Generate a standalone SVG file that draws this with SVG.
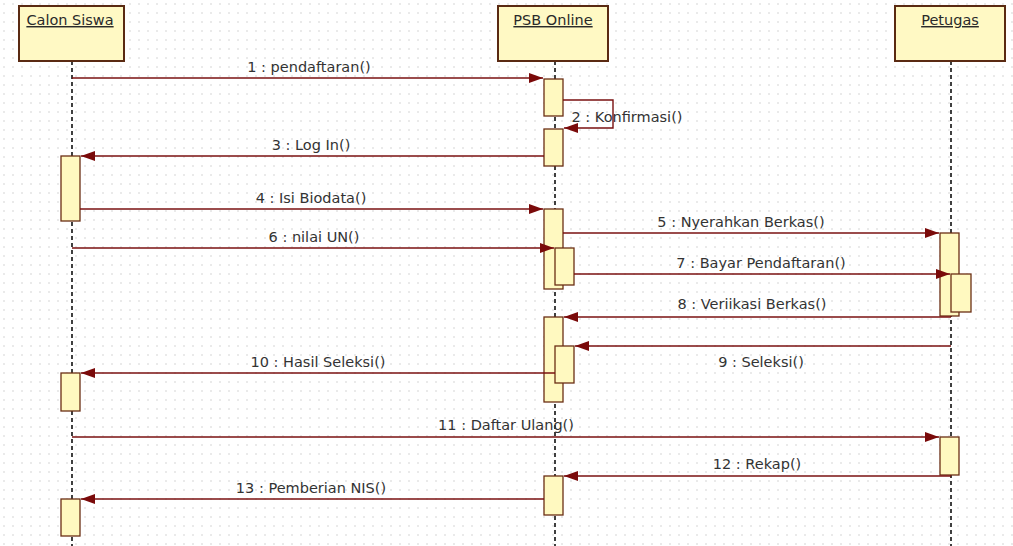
<svg xmlns="http://www.w3.org/2000/svg" width="1013" height="546" viewBox="0 0 1013 546">
<style>
.hdr{fill:#fff9c4;stroke:#5a2a12;stroke-width:2}
.act{fill:#fff9c0;stroke:#6b2e14;stroke-width:1.3}
.life{stroke:#111;stroke-width:1.6;stroke-dasharray:4 3;fill:none}
.msg{stroke:#7a1010;stroke-width:1.4;fill:none}
.lbl{font-family:"DejaVu Sans",sans-serif;font-size:14.5px;fill:#333;text-anchor:middle}
.hl{font-family:"DejaVu Sans",sans-serif;font-size:14.5px;fill:#2a2a2a;text-anchor:middle;text-decoration:underline}
</style>
<defs>
<pattern id="dots" width="9" height="9" patternUnits="userSpaceOnUse">
<circle cx="4" cy="4" r="0.7" fill="#c4c4c4"/>
</pattern>
<marker id="arr" markerWidth="14" markerHeight="10" refX="14" refY="5" orient="auto" markerUnits="userSpaceOnUse">
<path d="M0,0 L14,5 L0,10 Z" fill="#7a0a0a"/>
</marker>
</defs>
<rect width="1013" height="546" fill="#fff"/>
<rect width="1013" height="546" fill="url(#dots)"/>

<g id="lifelines">
<line class="life" x1="72" y1="61" x2="72" y2="546"/>
<line class="life" x1="555" y1="61" x2="555" y2="546"/>
<line class="life" x1="951" y1="61" x2="951" y2="546"/>
</g>

<g id="calon-siswa">
<rect class="hdr" x="19" y="6" width="105" height="55"/>
<text class="hl" x="70" y="25">Calon Siswa</text>
<rect class="act" x="61" y="156" width="19" height="65"/>
<rect class="act" x="61" y="373" width="19" height="38"/>
<rect class="act" x="61" y="499" width="19" height="37"/>
</g>

<g id="psb-online">
<rect class="hdr" x="498" y="6" width="110" height="55"/>
<text class="hl" x="553" y="25">PSB Online</text>
<rect class="act" x="544" y="79" width="19" height="37"/>
<rect class="act" x="544" y="129" width="19" height="37"/>
<rect class="act" x="544" y="209" width="19" height="80"/>
<rect class="act" x="555" y="248" width="19" height="37"/>
<rect class="act" x="544" y="317" width="19" height="85"/>
<rect class="act" x="555" y="346" width="19" height="37"/>
<rect class="act" x="544" y="476" width="19" height="39"/>
</g>

<g id="petugas">
<rect class="hdr" x="895" y="6" width="110" height="55"/>
<text class="hl" x="950" y="25">Petugas</text>
<rect class="act" x="940" y="233" width="19" height="83"/>
<rect class="act" x="951" y="274" width="20" height="38"/>
<rect class="act" x="940" y="437" width="19" height="38"/>
</g>

<g id="connectors">
<line class="msg" x1="72" y1="78" x2="543" y2="78" marker-end="url(#arr)"/>
<polyline class="msg" points="563,100 613,100 613,128 564,128" marker-end="url(#arr)"/>
<line class="msg" x1="544" y1="156" x2="81" y2="156" marker-end="url(#arr)"/>
<line class="msg" x1="80" y1="209" x2="543" y2="209" marker-end="url(#arr)"/>
<line class="msg" x1="563" y1="233" x2="939" y2="233" marker-end="url(#arr)"/>
<line class="msg" x1="72" y1="248" x2="554" y2="248" marker-end="url(#arr)"/>
<line class="msg" x1="574" y1="274" x2="950" y2="274" marker-end="url(#arr)"/>
<line class="msg" x1="951" y1="317" x2="564" y2="317" marker-end="url(#arr)"/>
<line class="msg" x1="951" y1="346" x2="575" y2="346" marker-end="url(#arr)"/>
<line class="msg" x1="555" y1="373" x2="81" y2="373" marker-end="url(#arr)"/>
<line class="msg" x1="72" y1="437" x2="939" y2="437" marker-end="url(#arr)"/>
<line class="msg" x1="951" y1="476" x2="564" y2="476" marker-end="url(#arr)"/>
<line class="msg" x1="544" y1="499" x2="81" y2="499" marker-end="url(#arr)"/>
</g>

<g id="labels">
<text class="lbl" x="309" y="72">1 : pendaftaran()</text>
<text class="lbl" x="627" y="122">2 : Konfirmasi()</text>
<text class="lbl" x="311" y="150">3 : Log In()</text>
<text class="lbl" x="311" y="203">4 : Isi Biodata()</text>
<text class="lbl" x="741" y="227">5 : Nyerahkan Berkas()</text>
<text class="lbl" x="314" y="242">6 : nilai UN()</text>
<text class="lbl" x="761" y="268">7 : Bayar Pendaftaran()</text>
<text class="lbl" x="752" y="309">8 : Veriikasi Berkas()</text>
<text class="lbl" x="761" y="367">9 : Seleksi()</text>
<text class="lbl" x="318" y="367">10 : Hasil Seleksi()</text>
<text class="lbl" x="506" y="430">11 : Daftar Ulang()</text>
<text class="lbl" x="757" y="469">12 : Rekap()</text>
<text class="lbl" x="311" y="493">13 : Pemberian NIS()</text>
</g>
</svg>
